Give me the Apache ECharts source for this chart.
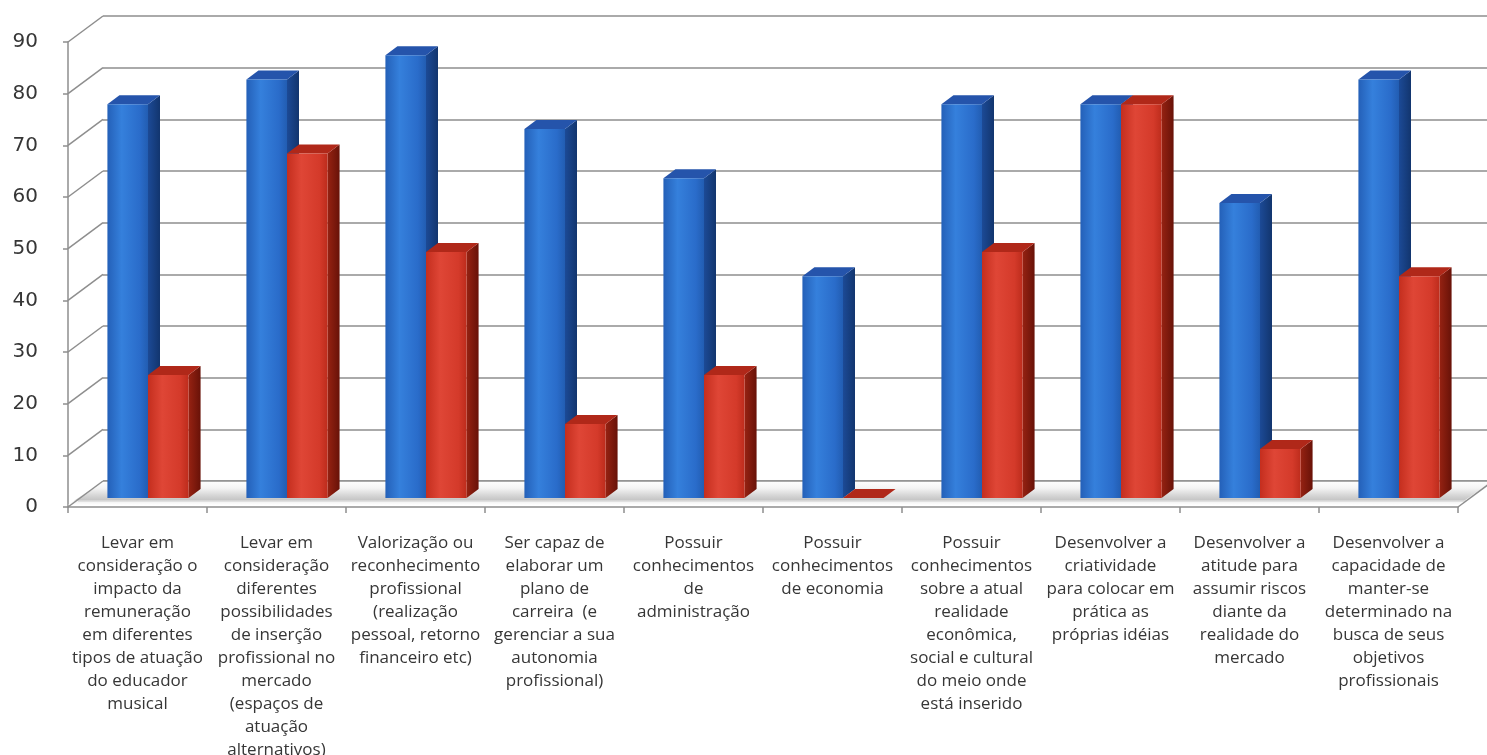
<!DOCTYPE html>
<html>
<head>
<meta charset="utf-8">
<script src="https://cdn.jsdelivr.net/npm/echarts@6/dist/echarts.min.js"></script>
<style>
  html, body { margin: 0; padding: 0; background: #ffffff; }
  #chart { width: 1487px; height: 755px; }
</style>
</head>
<body>
<div id="chart"></div>
<script>
// Category labels (line breaks as printed under each column)
const categories = [
  'Levar em\nconsideração o\nimpacto da\nremuneração\nem diferentes\ntipos de atuação\ndo educador\nmusical',
  'Levar em\nconsideração\ndiferentes\npossibilidades\nde inserção\nprofissional no\nmercado\n(espaços de\natuação\nalternativos)',
  'Valorização ou\nreconhecimento\nprofissional\n(realização\npessoal, retorno\nfinanceiro etc)',
  'Ser capaz de\nelaborar um\nplano de\ncarreira  (e\ngerenciar a sua\nautonomia\nprofissional)',
  'Possuir\nconhecimentos\nde\nadministração',
  'Possuir\nconhecimentos\nde economia',
  'Possuir\nconhecimentos\nsobre a atual\nrealidade\neconômica,\nsocial e cultural\ndo meio onde\nestá inserido',
  'Desenvolver a\ncriatividade\npara colocar em\nprática as\npróprias idéias',
  'Desenvolver a\natitude para\nassumir riscos\ndiante da\nrealidade do\nmercado',
  'Desenvolver a\ncapacidade de\nmanter-se\ndeterminado na\nbusca de seus\nobjetivos\nprofissionais'
];

// Percentages per item
const blueValues = [76.2, 81.0, 85.7, 71.4, 61.9, 42.9, 76.2, 76.2, 57.1, 81.0];
const redValues  = [23.8, 66.7, 47.6, 14.3, 23.8, 0, 47.6, 76.2, 9.5, 42.9];

// Value axis ticks
const yTicks = [0, 10, 20, 30, 40, 50, 60, 70, 80, 90];

// 3D projection settings (pixels)
const DEPTH_DX = 35, DEPTH_DY = -26;   // full depth of the floor / walls
const PLANE_DX = 12, PLANE_DY = -9;    // front plane of the bars
const BAR_DX = 12, BAR_DY = -9;        // bar thickness
const BAR_RATIO = 0.292;               // bar width relative to a category band
const PAIR_SHIFT = -1.5;

const palette = {
  blue: {
    front: ['#2460b8', '#3580dc', '#2a6cca', '#225db2'],
    side: ['#1c4a96', '#12356e'],
    top: '#2554ab'
  },
  red: {
    front: ['#c42e1e', '#df4636', '#d43a2a', '#bd2c1c'],
    side: ['#962212', '#681208'],
    top: '#b02819'
  }
};

function barRenderer(colors, leftSide) {
  return function (params, api) {
    const idx = api.value(0);
    const v = api.value(1);
    const top = api.coord([idx, v]);
    const base = api.coord([idx, 0]);
    const band = api.size([1, 0])[0];
    const w = band * BAR_RATIO;
    const x0 = top[0] + PLANE_DX + PAIR_SHIFT + (leftSide ? -w : 0);
    const x1 = x0 + w;
    const yT = top[1] + PLANE_DY;
    const yB = base[1] + PLANE_DY;
    const f = colors.front;
    return {
      type: 'group',
      children: [
        {
          type: 'polygon',
          shape: { points: [[x1, yB], [x1, yT], [x1 + BAR_DX, yT + BAR_DY], [x1 + BAR_DX, yB + BAR_DY]] },
          style: {
            fill: new echarts.graphic.LinearGradient(0, 0, 1, 0, [
              { offset: 0, color: colors.side[0] },
              { offset: 1, color: colors.side[1] }
            ])
          }
        },
        {
          type: 'polygon',
          shape: { points: [[x0, yT], [x1, yT], [x1 + BAR_DX, yT + BAR_DY], [x0 + BAR_DX, yT + BAR_DY]] },
          style: { fill: colors.top }
        },
        {
          type: 'rect',
          shape: { x: x0, y: yT, width: w, height: Math.max(0, yB - yT) },
          style: {
            fill: new echarts.graphic.LinearGradient(0, 0, 1, 0, [
              { offset: 0, color: f[0] },
              { offset: 0.35, color: f[1] },
              { offset: 0.8, color: f[2] },
              { offset: 1, color: f[3] }
            ])
          }
        }
      ]
    };
  };
}

const chart = echarts.init(document.getElementById('chart'), null, { renderer: 'canvas' });

const gridColor = '#8e8e8e';

chart.setOption({
  backgroundColor: '#ffffff',
  animation: false,
  grid: [
    { left: 68, right: 29, top: 42, bottom: 248, outerBoundsMode: 'none', containLabel: false },   // front plane
    { left: 103, right: 0, top: 16, bottom: 274, outerBoundsMode: 'none', containLabel: false }    // back wall
  ],
  xAxis: [
    {
      type: 'category',
      gridIndex: 0,
      data: categories,
      boundaryGap: true,
      axisLine: { show: true, lineStyle: { color: gridColor, width: 1.5 } },
      axisTick: { show: true, length: 6, interval: 0, lineStyle: { color: gridColor, width: 1.5 } },
      axisLabel: {
        interval: 0,
        margin: 25,
        lineHeight: 23,
        fontSize: 17,
        fontFamily: 'Open Sans',
        color: '#363636',
        align: 'center'
      },
      splitLine: { show: false }
    },
    {
      type: 'category',
      gridIndex: 1,
      data: categories,
      show: false
    }
  ],
  yAxis: [
    {
      type: 'value',
      gridIndex: 0,
      min: 0,
      max: 90,
      interval: 10,
      axisLine: { show: true, lineStyle: { color: gridColor, width: 1.5 } },
      axisTick: { show: true, length: 5, lineStyle: { color: gridColor, width: 1.5 } },
      axisLabel: {
        margin: 30,
        fontSize: 20,
        fontFamily: 'DejaVu Sans',
        color: '#363636'
      },
      splitLine: { show: false }
    },
    {
      type: 'value',
      gridIndex: 1,
      min: 0,
      max: 90,
      interval: 10,
      axisLine: { show: false },
      axisTick: { show: false },
      axisLabel: { show: false },
      splitLine: { show: true, lineStyle: { color: gridColor, width: 1.5 } }
    }
  ],
  series: [
    {
      // floor slab
      type: 'custom',
      xAxisIndex: 0,
      yAxisIndex: 0,
      z: 1,
      silent: true,
      data: [[0, 0]],
      renderItem: function (params, api) {
        const cs = params.coordSys;
        const y0 = api.coord([0, 0])[1];
        const xl = cs.x, xr = cs.x + cs.width;
        return {
          type: 'group',
          children: [
            {
              type: 'polygon',
              shape: { points: [[xl, y0 - 2], [xr, y0 - 2], [xr + DEPTH_DX, y0 + DEPTH_DY], [xl + DEPTH_DX, y0 + DEPTH_DY]] },
              style: {
                fill: new echarts.graphic.LinearGradient(0, 0, 0, 1, [
                  { offset: 0, color: '#ffffff' },
                  { offset: 0.3, color: '#f4f4f4' },
                  { offset: 0.6, color: '#d6d6d6' },
                  { offset: 0.78, color: '#c6c6c6' },
                  { offset: 0.85, color: '#f2f2f2' },
                  { offset: 1, color: '#ffffff' }
                ])
              }
            },
            {
              type: 'line',
              shape: { x1: xl + 10, y1: y0 - 6, x2: xr + 8, y2: y0 - 6 },
              style: { stroke: '#d0d0d0', lineWidth: 1 }
            },
            {
              type: 'line',
              shape: { x1: xr, y1: y0, x2: xr + DEPTH_DX, y2: y0 + DEPTH_DY },
              style: { stroke: gridColor, lineWidth: 1.5 }
            },
            {
              type: 'line',
              shape: { x1: xl + DEPTH_DX, y1: y0 + DEPTH_DY, x2: xr + DEPTH_DX, y2: y0 + DEPTH_DY },
              style: { stroke: gridColor, lineWidth: 1.5 }
            }
          ]
        };
      }
    },
    {
      // side wall gridlines
      type: 'custom',
      xAxisIndex: 0,
      yAxisIndex: 0,
      z: 1,
      silent: true,
      data: yTicks.map(function (t) { return [0, t]; }),
      renderItem: function (params, api) {
        const cs = params.coordSys;
        const y = api.coord([0, api.value(1)])[1];
        return {
          type: 'line',
          shape: { x1: cs.x, y1: y, x2: cs.x + DEPTH_DX, y2: y + DEPTH_DY },
          style: { stroke: gridColor, lineWidth: 1.5 }
        };
      }
    },
    {
      type: 'custom',
      name: 'Série 1',
      xAxisIndex: 0,
      yAxisIndex: 0,
      z: 3,
      data: blueValues.map(function (v, i) { return [i, v]; }),
      renderItem: barRenderer(palette.blue, true)
    },
    {
      type: 'custom',
      name: 'Série 2',
      xAxisIndex: 0,
      yAxisIndex: 0,
      z: 3,
      data: redValues.map(function (v, i) { return [i, v]; }),
      renderItem: barRenderer(palette.red, false)
    }
  ]
});
</script>
</body>
</html>
